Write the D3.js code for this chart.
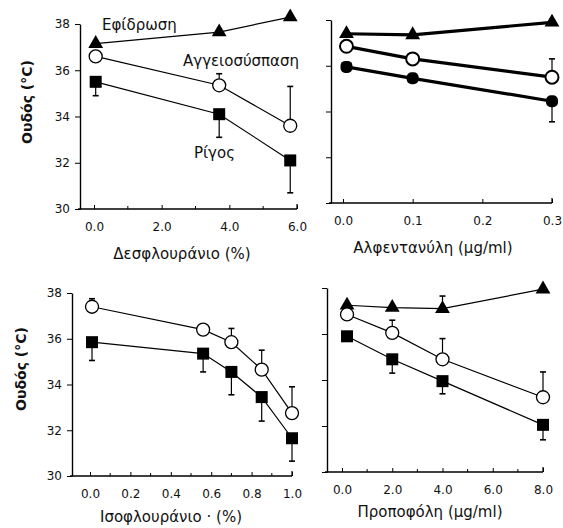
<!DOCTYPE html>
<html lang="el">
  <head>
    <meta charset="utf-8" />
    <script src="https://d3js.org/d3.v7.min.js"></script>
    <style>
      body {
        margin: 0;
        background: #fff;
      }
      text {
        font-family: "DejaVu Sans", sans-serif;
        fill: #111;
      }
      .tick text {
        font-size: 12px;
      }
      .axis-label {
        font-size: 15px;
      }
      .series-label {
        font-size: 15px;
      }
    </style>
  </head>
  <body>
    <svg id="chart" width="563" height="528"></svg>
    <script>
      // desflurane
      const desX = [0.05, 3.7, 5.8];
      const desSweat = [37.15, 37.65, 38.3];
      const desVaso = [36.6, 35.35, 33.6];
      const desVasoSd = [0, 0.5, 1.7];
      const desShiver = [35.5, 34.1, 32.1];
      const desShiverSd = [0.6, 1.0, 1.4];
      const desTicks = [0, 2, 4, 6];
      const desMinor = [1, 3, 5];

      // alfentanil
      const alfX = [0.005, 0.1, 0.3];
      const alfSweat = [37.4, 37.35, 37.9];
      const alfVaso = [36.85, 36.3, 35.5];
      const alfVasoSd = [0, 0, 0.8];
      const alfShiver = [35.95, 35.45, 34.45];
      const alfShiverSd = [0.2, 0, 0.9];
      const alfTicks = [0, 0.1, 0.2, 0.3];
      const alfMinor = [];

      // isoflurane
      const isoX = [0.01, 0.56, 0.7, 0.85, 1.0];
      const isoVaso = [37.4, 36.4, 35.85, 34.65, 32.75];
      const isoVasoSd = [0.35, 0, 0.6, 0.85, 1.15];
      const isoShiver = [35.85, 35.35, 34.55, 33.45, 31.65];
      const isoShiverSd = [0.8, 0.8, 1.0, 1.05, 1.0];
      const isoTicks = [0, 0.2, 0.4, 0.6, 0.8, 1.0];
      const isoMinor = [0.1, 0.3, 0.5, 0.7, 0.9];

      // propofol
      const propX = [0.2, 2.0, 4.0, 8.0];
      const propSweat = [37.25, 37.15, 37.1, 37.95];
      const propSweatSd = [0, 0, 0.55, 0];
      const propVaso = [36.85, 36.05, 34.9, 33.25];
      const propVasoSd = [0, 0.55, 0.9, 1.1];
      const propShiver = [35.9, 34.9, 33.95, 32.05];
      const propShiverSd = [0, 0.6, 0.55, 0.65];
      const propTicks = [0, 2, 4, 6, 8];
      const propMinor = [1, 3, 5, 7];

      const yTicks = [30, 32, 34, 36, 38];
      const yTitle = "Ουδός (°C)";

      const svg = d3.select("svg#chart");

      const panels = [
        {
          x: desX,
          xDomain: [0, 6],
          xRange: [94, 297],
          yRange: [209, 24],
          axisX: 80,
          ticks: desTicks,
          minor: desMinor,
          fmt: d3.format(".1f"),
          yLabels: true,
          title: "Δεσφλουράνιο  (%)",
          titlePos: [182, 259],
          thick: false,
          series: [
            { kind: "sweat", values: desSweat, sd: null, dir: 1 },
            { kind: "vaso", values: desVaso, sd: desVasoSd, dir: 1 },
            { kind: "shiver", values: desShiver, sd: desShiverSd, dir: -1 },
          ],
        },
        {
          x: alfX,
          xDomain: [0, 0.3],
          xRange: [343, 552],
          yRange: [203, 20],
          axisX: 331,
          ticks: alfTicks,
          minor: alfMinor,
          fmt: d3.format(".1f"),
          yLabels: false,
          title: "Αλφεντανύλη  (μg/ml)",
          titlePos: [433, 253],
          thick: true,
          series: [
            { kind: "sweat", values: alfSweat, sd: null, dir: 1 },
            { kind: "vaso", values: alfVaso, sd: alfVasoSd, dir: 1 },
            { kind: "shiver", values: alfShiver, sd: alfShiverSd, dir: -1 },
          ],
        },
        {
          x: isoX,
          xDomain: [0, 1],
          xRange: [90, 292],
          yRange: [476, 293],
          axisX: 72,
          ticks: isoTicks,
          minor: isoMinor,
          fmt: d3.format(".1f"),
          yLabels: true,
          title: "Ισοφλουράνιο · (%)",
          titlePos: [171, 522],
          thick: false,
          series: [
            { kind: "vaso", values: isoVaso, sd: isoVasoSd, dir: 1 },
            { kind: "shiver", values: isoShiver, sd: isoShiverSd, dir: -1 },
          ],
        },
        {
          x: propX,
          xDomain: [0, 8],
          xRange: [342, 543],
          yRange: [472, 288],
          axisX: 327,
          ticks: propTicks,
          minor: propMinor,
          fmt: d3.format(".1f"),
          yLabels: false,
          title: "Προποφόλη  (μg/ml)",
          titlePos: [430, 517],
          thick: false,
          series: [
            { kind: "sweat", values: propSweat, sd: propSweatSd, dir: 1 },
            { kind: "vaso", values: propVaso, sd: propVasoSd, dir: 1 },
            { kind: "shiver", values: propShiver, sd: propShiverSd, dir: -1 },
          ],
        },
      ];

      panels.forEach((p) => {
        const x = d3.scaleLinear().domain(p.xDomain).range(p.xRange);
        const y = d3.scaleLinear().domain([30, 38]).range(p.yRange);
        const g = svg.append("g");
        const lw = p.thick ? 3.2 : 1.2;

        // y axis
        const yAxis = d3
          .axisLeft(y)
          .tickValues(yTicks)
          .tickSizeInner(5)
          .tickSizeOuter(0)
          .tickPadding(5)
          .tickFormat((d) => (p.yLabels ? d : ""));
        g.append("g")
          .attr("transform", `translate(${p.axisX},0)`)
          .call(yAxis)
          .call((a) => a.select(".domain").attr("stroke-width", 1.4));

        // x axis
        const xAxis = d3
          .axisBottom(x)
          .tickValues(p.ticks)
          .tickSizeInner(-4)
          .tickSizeOuter(0)
          .tickPadding(13)
          .tickFormat(p.fmt);
        const xa = g
          .append("g")
          .attr("transform", `translate(0,${p.yRange[0]})`)
          .call(xAxis);
        xa.select(".domain").remove();
        xa.append("line")
          .attr("x1", p.axisX - 2)
          .attr("x2", p.xRange[1])
          .attr("stroke", "#000")
          .attr("stroke-width", 1.4);
        xa.append("line")
          .attr("x1", p.xRange[1])
          .attr("x2", p.xRange[1])
          .attr("y1", 0)
          .attr("y2", -5)
          .attr("stroke", "#000")
          .attr("stroke-width", 1.2);
        p.minor.forEach((m) => {
          xa.append("line")
            .attr("x1", x(m))
            .attr("x2", x(m))
            .attr("y1", 0)
            .attr("y2", -3)
            .attr("stroke", "#000");
        });

        g.append("text")
          .attr("class", "axis-label")
          .attr("x", p.titlePos[0])
          .attr("y", p.titlePos[1])
          .attr("text-anchor", "middle")
          .text(p.title);

        const line = d3
          .line()
          .x((d, i) => x(p.x[i]))
          .y((d) => y(d));

        // lines
        p.series.forEach((s) => {
          g.append("path")
            .attr("d", line(s.values))
            .attr("fill", "none")
            .attr("stroke", "#000")
            .attr("stroke-width", lw);
        });

        // error bars
        p.series.forEach((s) => {
          if (!s.sd) return;
          s.values.forEach((v, i) => {
            if (!s.sd[i]) return;
            const cx = x(p.x[i]);
            const y2 = y(v + s.dir * s.sd[i]);
            g.append("line")
              .attr("x1", cx)
              .attr("x2", cx)
              .attr("y1", y(v))
              .attr("y2", y2)
              .attr("stroke", "#000")
              .attr("stroke-width", 1.2);
            g.append("line")
              .attr("x1", cx - 3)
              .attr("x2", cx + 3)
              .attr("y1", y2)
              .attr("y2", y2)
              .attr("stroke", "#000")
              .attr("stroke-width", 1.6);
          });
        });

        // markers
        p.series.forEach((s) => {
          s.values.forEach((v, i) => {
            const cx = x(p.x[i]);
            const cy = y(v);
            if (s.kind === "sweat") {
              g.append("path")
                .attr("d", d3.symbol(d3.symbolTriangle, 95)())
                .attr("transform", `translate(${cx},${cy})`)
                .attr("fill", "#000");
            } else if (s.kind === "vaso") {
              g.append("circle")
                .attr("cx", cx)
                .attr("cy", cy)
                .attr("r", 6.5)
                .attr("fill", "#fff")
                .attr("stroke", "#000")
                .attr("stroke-width", p.thick ? 2 : 1.3);
            } else {
              g.append("rect")
                .attr("x", cx - 6)
                .attr("y", cy - 6)
                .attr("width", 12)
                .attr("height", 12)
                .attr("rx", p.thick ? 5 : 0)
                .attr("fill", "#000");
            }
          });
        });
      });

      // y titles
      [
        [27, 102],
        [21, 369],
      ].forEach((pos) => {
        svg
          .append("text")
          .attr("transform", `translate(${pos[0] + 5},${pos[1]}) rotate(-90)`)
          .attr("text-anchor", "middle")
          .style("font-weight", "bold")
          .style("font-size", "14px")
          .text(yTitle);
      });

      // series labels (top-left panel)
      const seriesLabels = [
        ["Εφίδρωση", 102, 30],
        ["Αγγειοσύσπαση", 183, 66],
        ["Ρίγος", 194, 158],
      ];
      seriesLabels.forEach((l) => {
        svg
          .append("text")
          .attr("class", "series-label")
          .attr("x", l[1])
          .attr("y", l[2])
          .text(l[0]);
      });
    </script>
  </body>
</html>
